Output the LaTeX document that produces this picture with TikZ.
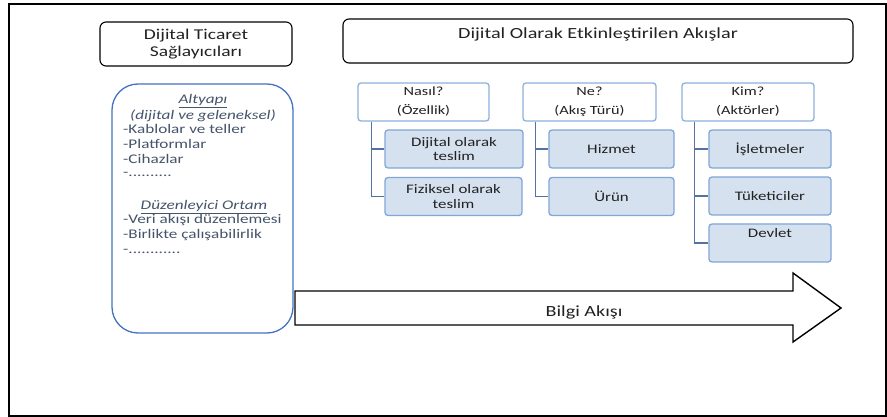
\documentclass[tikz,border=0pt]{standalone}
\usepackage{fontspec}
\setmainfont{Carlito}[FakeStretch=1.3]
\definecolor{navy}{HTML}{44546A}
\definecolor{bigblue}{HTML}{4472C4}
\definecolor{pborder}{HTML}{8DB0DC}
\definecolor{cborder}{HTML}{7FA6D6}
\definecolor{cfill}{HTML}{D6E1F0}
\definecolor{connc}{HTML}{5573A0}
\definecolor{txt}{HTML}{222222}
\begin{document}
\begin{tikzpicture}[x=1pt,y=-1pt,
  frame/.style={draw=black,line width=1.5pt},
  topbox/.style={draw=black,line width=1.1pt,rounded corners=6pt,inner sep=0pt,text=txt,align=center},
  bluebox/.style={draw=bigblue,line width=1.3pt,rounded corners=26pt,inner sep=0pt},
  parbox/.style={draw=pborder,fill=white,line width=1.3pt,rounded corners=3pt,inner sep=0pt,align=center,text=txt,font=\fontsize{12.5}{19}\selectfont,minimum height=38pt},
  childbox/.style={draw=cborder,fill=cfill,line width=1.3pt,rounded corners=3pt,inner sep=0pt,align=center,text=txt,font=\fontsize{13}{14.5}\selectfont,minimum height=38pt},
  conn/.style={draw=connc,line width=1.6pt},
  bt/.style={font=\fontsize{13.2}{15}\selectfont,text=navy,inner sep=0pt,anchor=base west},
  bh/.style={font=\fontsize{13.2}{15}\selectfont\itshape,text=navy,inner sep=0pt,anchor=base},
  arrowshape/.style={draw=black,fill=white,line width=1.4pt,line join=miter}
]
\useasboundingbox (0,0) rectangle (887,417);
\draw[frame] (9,4) rectangle (886,416);

% top boxes
\node[topbox,minimum width=192pt,minimum height=44pt,font=\fontsize{15}{17.5}\selectfont] (dtp) at (196,44) {Dijital Ticaret\\Sağlayıcıları};
\node[topbox,minimum width=510pt,minimum height=44pt,font=\fontsize{15.5}{18}\selectfont,text height=10pt,text depth=14pt] (flows) at (598,41) {Dijital Olarak Etkinleştirilen Akışlar};

% left blue box
\node[bluebox,minimum width=181pt,minimum height=249pt] (infra) at (202.5,208.5) {};
\node[bh] (h1) at (203,104) {\underline{Altyapı}};
\node[bh] (h2) at (203,120) {(dijital ve geleneksel)};
\node[bt] (l1) at (123,134) {-Kablolar ve teller};
\node[bt] (l2) at (123,149) {-Platformlar};
\node[bt] (l3) at (123,164) {-Cihazlar};
\node[bt] (l4) at (123,177) {-..........};
\node[bh] (h3) at (204,210) {\underline{Düzenleyici Ortam}};
\node[bt] (l5) at (123,224) {-Veri akışı düzenlemesi};
\node[bt] (l6) at (123,239) {-Birlikte çalışabilirlik};
\node[bt] (l7) at (123,253) {-............};

% arrow
\draw[arrowshape] (295,291) -- (793,291) -- (793,273) -- (841,308) -- (793,342) -- (793,325) -- (295,325) -- cycle;
\node[font=\fontsize{15.5}{18}\selectfont,text=txt,inner sep=0pt] (flowlbl) at (584,312) {Bilgi Akışı};

% parents
\node[parbox,minimum width=131pt] (nasil) at (423.5,102) {Nasıl?\\(Özellik)};
\node[parbox,minimum width=133pt] (ne) at (589.5,102) {Ne?\\(Akış Türü)};
\node[parbox,minimum width=132pt] (kim) at (748,102) {Kim?\\(Aktörler)};

% children
\node[childbox,minimum width=138pt] (n1) at (454,149) {Dijital olarak\\teslim};
\node[childbox,minimum width=137pt] (n2) at (453.5,196.5) {Fiziksel olarak\\teslim};
\node[childbox,minimum width=125pt] (e1) at (611.5,149) {Hizmet};
\node[childbox,minimum width=125pt] (e2) at (611.5,196.5) {Ürün};
\node[childbox,minimum width=122pt] (k1) at (770,149) {İşletmeler};
\node[childbox,minimum width=122pt] (k2) at (770,196) {Tüketiciler};
\node[childbox,minimum width=122pt,text height=9pt,text depth=20pt] (k3) at (770,243) {Devlet};

% connectors
\draw[conn] ([xshift=14pt]nasil.south west) |- (n1.west);
\draw[conn] ([xshift=14pt]nasil.south west) |- (n2.west);
\draw[conn] ([xshift=13pt]ne.south west) |- (e1.west);
\draw[conn] ([xshift=13pt]ne.south west) |- (e2.west);
\draw[conn] ([xshift=13pt]kim.south west) |- (k1.west);
\draw[conn] ([xshift=13pt]kim.south west) |- (k2.west);
\draw[conn] ([xshift=13pt]kim.south west) |- (k3.west);
\end{tikzpicture}
\end{document}
